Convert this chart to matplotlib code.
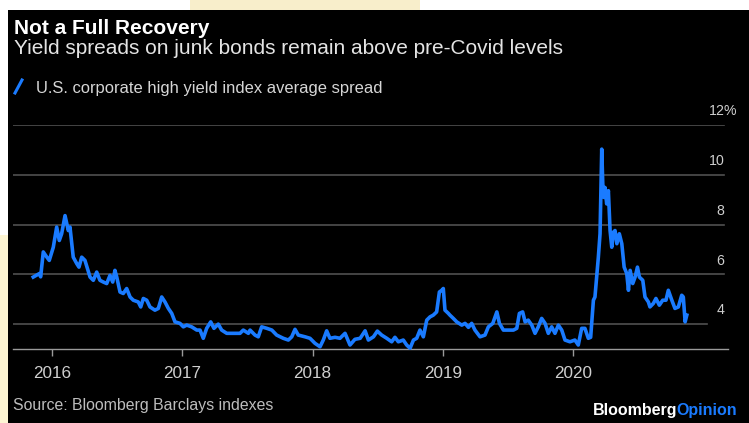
import matplotlib
matplotlib.use("Agg")
import matplotlib.pyplot as plt
from matplotlib.patches import Rectangle
from matplotlib.lines import Line2D

# ---- data (decimal year, spread %) ----
years = [2015.856, 2015.903, 2015.913, 2015.933, 2015.959, 2015.979, 2016.010, 2016.036, 2016.056, 2016.074,
         2016.100, 2016.125, 2016.138, 2016.163, 2016.190, 2016.207, 2016.228, 2016.253, 2016.292, 2016.317,
         2016.343, 2016.368, 2016.394, 2016.420, 2016.445, 2016.466, 2016.483, 2016.497, 2016.522, 2016.547,
         2016.573, 2016.599, 2016.624, 2016.662, 2016.681, 2016.701, 2016.727, 2016.752, 2016.790, 2016.816,
         2016.842, 2016.867, 2016.893, 2016.919, 2016.944, 2016.982, 2017.008, 2017.034, 2017.072, 2017.111,
         2017.136, 2017.161, 2017.187, 2017.218, 2017.243, 2017.276, 2017.302, 2017.341, 2017.391, 2017.443,
         2017.468, 2017.507, 2017.520, 2017.558, 2017.583, 2017.609, 2017.649, 2017.687, 2017.724, 2017.775,
         2017.814, 2017.840, 2017.865, 2017.890, 2017.942, 2017.980, 2018.018, 2018.057, 2018.082, 2018.108,
         2018.133, 2018.172, 2018.210, 2018.249, 2018.287, 2018.325, 2018.365, 2018.403, 2018.428, 2018.467,
         2018.497, 2018.530, 2018.569, 2018.607, 2018.632, 2018.658, 2018.696, 2018.722, 2018.748, 2018.774,
         2018.799, 2018.824, 2018.850, 2018.876, 2018.901, 2018.926, 2018.952, 2018.973, 2018.991, 2019.003,
         2019.016, 2019.042, 2019.054, 2019.080, 2019.106, 2019.145, 2019.170, 2019.196, 2019.221, 2019.246,
         2019.285, 2019.323, 2019.349, 2019.383, 2019.414, 2019.434, 2019.464, 2019.503, 2019.541, 2019.567,
         2019.587, 2019.612, 2019.631, 2019.655, 2019.682, 2019.707, 2019.732, 2019.758, 2019.784, 2019.809,
         2019.835, 2019.860, 2019.886, 2019.912, 2019.937, 2019.975, 2020.013, 2020.039, 2020.065, 2020.090,
         2020.116, 2020.134, 2020.155, 2020.167, 2020.193, 2020.206, 2020.219, 2020.227, 2020.236, 2020.244,
         2020.257, 2020.270, 2020.283, 2020.296, 2020.308, 2020.321, 2020.335, 2020.354, 2020.373, 2020.391,
         2020.411, 2020.424, 2020.437, 2020.457, 2020.475, 2020.493, 2020.508, 2020.534, 2020.551, 2020.577,
         2020.589, 2020.615, 2020.635, 2020.661, 2020.687, 2020.712, 2020.730, 2020.757, 2020.781, 2020.807,
         2020.833, 2020.845, 2020.859, 2020.872]
spread = [5.89, 6.03, 5.90, 6.90, 6.70, 6.56, 7.09, 7.90, 7.36, 7.63,
          8.36, 7.76, 7.90, 6.69, 6.43, 6.29, 6.69, 6.56, 5.89, 5.76,
          6.09, 5.76, 5.69, 5.63, 5.96, 5.69, 6.16, 5.89, 5.29, 5.23,
          5.43, 5.09, 4.96, 4.89, 4.69, 5.03, 4.96, 4.69, 4.56, 4.63,
          5.09, 4.89, 4.63, 4.43, 4.09, 4.03, 3.89, 3.96, 3.89, 3.76,
          3.76, 3.43, 3.83, 4.09, 3.83, 4.00, 3.76, 3.63, 3.63, 3.63,
          3.76, 3.63, 3.76, 3.56, 3.49, 3.89, 3.83, 3.76, 3.56, 3.43,
          3.36, 3.49, 3.79, 3.56, 3.49, 3.43, 3.23, 3.09, 3.36, 3.73,
          3.43, 3.47, 3.43, 3.63, 3.16, 3.39, 3.43, 3.73, 3.36, 3.49,
          3.72, 3.56, 3.43, 3.29, 3.47, 3.29, 3.36, 3.16, 3.03, 3.36,
          3.43, 3.76, 3.49, 4.16, 4.29, 4.36, 4.49, 5.29, 5.36, 5.43,
          4.56, 4.43, 4.36, 4.23, 4.09, 3.96, 4.03, 3.87, 4.03, 3.76,
          3.49, 3.56, 3.89, 4.03, 4.49, 4.03, 3.76, 3.76, 3.76, 3.83,
          4.43, 4.49, 4.09, 4.16, 3.96, 3.63, 3.89, 4.23, 4.03, 3.63,
          3.89, 3.63, 3.96, 3.76, 3.36, 3.29, 3.36, 3.16, 3.83, 3.83,
          3.43, 3.47, 4.96, 5.09, 6.69, 7.63, 11.03, 9.63, 9.09, 9.49,
          8.83, 9.36, 7.76, 7.09, 7.69, 7.76, 7.23, 7.63, 7.23, 6.29,
          6.03, 5.36, 6.16, 5.63, 5.89, 6.29, 5.89, 5.76, 5.09, 4.89,
          4.69, 4.83, 5.03, 4.76, 4.96, 4.96, 5.36, 4.96, 4.63, 4.69,
          5.16, 5.09, 4.09, 4.36]

x_ticks = [2016, 2017, 2018, 2019, 2020]
x_labels = ["2016", "2017", "2018", "2019", "2020"]
y_grid = [4, 6, 8, 10, 12]
y_labels = ["4", "6", "8", "10", "12"]

W, H = 749, 423
BLUE = "#1a7bff"
FONT = "Liberation Sans"

fig = plt.figure(figsize=(W / 100, H / 100), dpi=100, facecolor="white")


def fx(px):
    return px / W


def fy(py):
    return 1 - py / H


# backdrop: black panel with bits of the page around it
fig.patches.append(Rectangle((fx(190), fy(10)), fx(230), 10 / H, transform=fig.transFigure,
                             facecolor="#f8eecb", edgecolor="none", zorder=0))
fig.patches.append(Rectangle((0, 0), fx(8), fy(235), transform=fig.transFigure,
                             facecolor="#fdf5d3", edgecolor="none", zorder=0))
fig.patches.append(Rectangle((fx(8), 0), 1 - fx(8), fy(10), transform=fig.transFigure,
                             facecolor="black", edgecolor="none", zorder=0))

x_left = 2016 + (13 - 52) / 130.3
x_right = 2016 + (728 - 52) / 130.3
ax = fig.add_axes([fx(13), fy(349), fx(728) - fx(13), (349 - 125) / H])
ax.set_zorder(5)
ax.set_facecolor("none")
ax.set_xlim(x_left, x_right)
ax.set_ylim(3, 12)
for s in ["top", "right", "left"]:
    ax.spines[s].set_visible(False)
ax.spines["bottom"].set_color("#9a9a9a")
ax.spines["bottom"].set_linewidth(1.0)

grid_end = 2016 + (724 - 52) / 130.3
for v, lab in zip(y_grid, y_labels):
    end = 2016 + (707 - 52) / 130.3 if v == 4 else grid_end
    ax.plot([x_left, end], [v, v], color="#505050", lw=1.2, zorder=1)
    ax.annotate(lab, xy=(1, v), xycoords=("axes fraction", "data"),
                xytext=(-2.5, 7), textcoords="offset points", ha="right", va="baseline",
                color="#cfcfcf", fontsize=10.2, family=FONT)
ax.annotate("%", xy=(1, 12), xycoords=("axes fraction", "data"),
            xytext=(-3.5, 7), textcoords="offset points", ha="left", va="baseline",
            color="#cfcfcf", fontsize=10.2, family=FONT)

ax.plot(years, spread, color=BLUE, lw=2.6, solid_joinstyle="round", zorder=3, clip_on=False)

ax.set_yticks([])
ax.set_xticks(x_ticks)
ax.set_xticklabels(x_labels, family=FONT, fontsize=12.3, color="#cfcfcf")
ax.tick_params(axis="x", direction="out", length=5, width=1, color="#9a9a9a", pad=7.5)

# header texts
t1 = fig.text(fx(14), fy(33.5), "Not a Full Recovery", family=FONT, weight="bold",
              fontsize=15, color="white", va="baseline")
t2 = fig.text(fx(14), fy(53.5), "Yield spreads on junk bonds remain above pre-Covid levels",
              family=FONT, fontsize=12.5, color="#e4e4e4", va="baseline")
fig.lines.append(Line2D([fx(15), fx(22)], [fy(93), fy(80)], transform=fig.transFigure,
                        color=BLUE, lw=2.2))
t3 = fig.text(fx(36), fy(92.5), "U.S. corporate high yield index average spread",
              family=FONT, fontsize=11, color="#d6d6d6", va="baseline")
t4 = fig.text(fx(13), fy(410), "Source: Bloomberg Barclays indexes",
              family=FONT, fontsize=10, color="#bdbdbd", va="baseline")

r = fig.canvas.get_renderer()


def fit(t, width):
    for _ in range(3):
        w = t.get_window_extent(r).width
        t.set_fontsize(t.get_fontsize() * width / w)


fit(t1, 196)
fit(t2, 548)
fit(t3, 347)
fit(t4, 260)

b2 = fig.text(fx(737), fy(415), "Opinion", family=FONT, weight="bold", fontsize=11.5,
              color=BLUE, va="baseline", ha="right")
w2 = b2.get_window_extent(r).width
b1 = fig.text(fx(738 - w2), fy(415), "Bloomberg", family=FONT, weight="bold", fontsize=11.5,
              color="white", va="baseline", ha="right")

fig.savefig("out.png", dpi=100, facecolor=fig.get_facecolor())
